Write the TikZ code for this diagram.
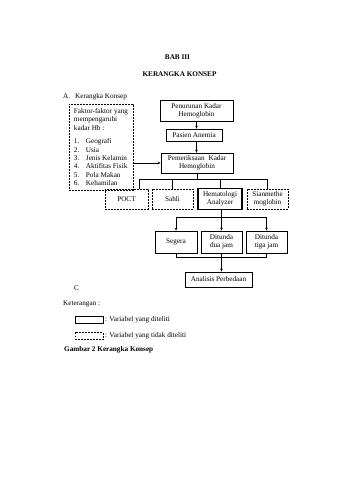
\documentclass[tikz,border=0pt]{standalone}
\usepackage{fontspec}
\setmainfont{Liberation Serif}
\usetikzlibrary{arrows.meta}
\begin{document}
\begin{tikzpicture}[x=1pt,y=-1pt,
  every node/.style={font=\fontsize{7.2}{8.3}\selectfont, inner sep=0pt},
  sbox/.style={draw, line width=0.75pt, align=center},
  dbox/.style={draw, line width=0.75pt, dash pattern=on 1.8pt off 1.2pt, align=center},
  tbox/.style={draw, line width=1.3pt, align=center},
  conn/.style={line width=0.7pt},
  arr/.style={line width=0.7pt, -{Stealth[length=3pt,width=2.6pt]}},
  lbl/.style={anchor=west}
]
\useasboundingbox (0,0) rectangle (339,480);
% titles
\node (t1) at (177.5,57) {\bfseries BAB III};
\node (t2) at (179.5,74) {\bfseries KERANGKA KONSEP};
\node[lbl] (sec) at (63,97) {A.\hspace{5pt}Kerangka Konsep};
% factor box
\node[dbox, minimum width=64pt, minimum height=86pt, align=left] (fak) at (101,147)
  {Faktor-faktor yang\\mempengaruhi\\kadar Hb :\\[5.5pt]
   \makebox[12pt][l]{1.}Geografi\\
   \makebox[12pt][l]{2.}Usia\\
   \makebox[12pt][l]{3.}Jenis Kelamin\\
   \makebox[12pt][l]{4.}Aktifitas Fisik\\
   \makebox[12pt][l]{5.}Pola Makan\\
   \makebox[12pt][l]{6.}Kehamilan};
% main chain
\node[sbox, minimum width=73pt, minimum height=21pt] (b1) at (196.5,110.5) {Penurunan Kadar\\Hemoglobin};
\node[sbox, minimum width=56pt, minimum height=12pt] (b2) at (194,135) {Pasien Anemia};
\node[sbox, minimum width=72pt, minimum height=20pt] (b3) at (197,163) {Pemeriksaan\hspace{4pt}Kadar\\Hemoglobin};
\draw[arr] (b1.south) -- (b1.south |- b2.north);
\draw[arr] (b1.south |- b2.south) -- (b1.south |- b3.north);
\draw[arr] (fak.east |- b3.west) -- (b3.west);
% methods row
\node[dbox, minimum width=43pt, minimum height=20pt] (poct) at (126.5,199) {POCT};
\node[dbox, minimum width=41pt, minimum height=20pt] (sahli) at (172.5,199) {Sahli};
\node[tbox, minimum width=44pt, minimum height=21pt] (hem) at (220,199) {Hematologi\\Analyzer};
\node[dbox, minimum width=41pt, minimum height=20pt] (sian) at (267.5,199) {Sianmethe\\moglobin};
\coordinate (pd) at (139,179);
\draw[conn] (b3.south) -- (b3.south |- pd);
\draw[conn] (pd |- poct.north) -- (pd) -- (sian.north |- pd) -- (sian.north);
\draw[conn] (sahli.north |- pd) -- (sahli.north);
\draw[conn] (hem.north |- pd) -- (hem.north);
% timing row
\node[sbox, minimum width=42pt, minimum height=22pt] (seg) at (176,242) {Segera};
\node[sbox, minimum width=41pt, minimum height=22pt] (dua) at (221.5,242) {Ditunda\\dua jam};
\node[sbox, minimum width=41pt, minimum height=22pt] (tiga) at (266.5,242) {Ditunda\\tiga jam};
\coordinate (bus2) at (221.5,217);
\draw[conn] (hem.south -| bus2) -- (bus2);
\draw[conn] (seg.north |- bus2) -- (tiga.north |- bus2);
\draw[arr] (seg.north |- bus2) -- (seg.north);
\draw[arr] (bus2) -- (dua.north);
\draw[arr] (tiga.north |- bus2) -- (tiga.north);
% analysis
\node[sbox, minimum width=67pt, minimum height=15pt] (ana) at (218.5,279.5) {Analisis Perbedaan};
\coordinate (bus3) at (221.5,257);
\draw[conn] (seg.south) -- (seg.south |- bus3) -- (tiga.south |- bus3) -- (tiga.south);
\draw[arr] (dua.south) -- (dua.south |- ana.north);
% legend
\node[lbl] (c) at (74,288) {C};
\node[lbl] (ket) at (63,304) {Keterangan :};
\node[sbox, minimum width=28pt, minimum height=7pt] (leg1) at (89,320) {};
\node[lbl] (leg1t) at ([xshift=1.5pt]leg1.east) {: Variabel yang diteliti};
\node[dbox, minimum width=28pt, minimum height=7pt] (leg2) at (89,336) {};
\node[lbl] (leg2t) at ([xshift=1.5pt]leg2.east) {: Variabel yang tidak diteliti};
\node[lbl] (cap) at (64,350) {\bfseries Gambar 2 Kerangka Konsep};
\end{tikzpicture}
\end{document}
